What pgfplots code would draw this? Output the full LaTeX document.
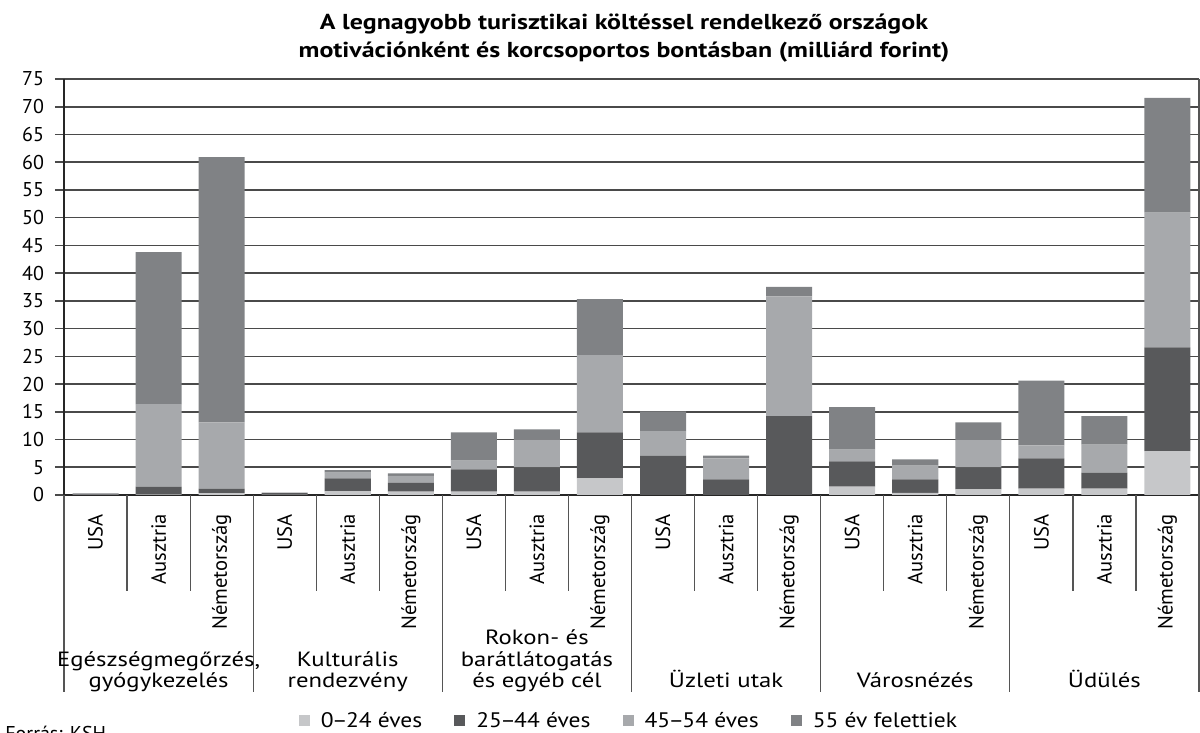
\documentclass[border=0pt]{standalone}
\usepackage{pgfplots}
\usepackage{pgfplotstable}
\pgfplotsset{compat=1.18}
\usepackage{fontspec}
\setmainfont{PT Sans}
\newfontfamily\widefont{PT Sans}[FakeStretch=1.2]
\newfontfamily\legfont{PT Sans}[FakeStretch=1.12]
\definecolor{cA}{HTML}{C6C7C9}
\definecolor{cB}{HTML}{58595B}
\definecolor{cC}{HTML}{A7A9AC}
\definecolor{cD}{HTML}{808285}
\definecolor{gridc}{HTML}{4A4A4A}
\definecolor{sepc}{HTML}{555555}
\newcommand{\dash}{\kern-0.8pt–\kern-0.8pt}

\pgfplotstableread{
x a b c d
0 0.05 0.05 0.10 0.10
1 0.10 1.40 14.90 27.40
2 0.35 0.80 11.95 47.80
3 0.05 0.35 0.05 0.00
4 0.66 2.34 1.05 0.45
5 0.60 1.60 1.25 0.45
6 0.60 4.00 1.60 5.10
7 0.60 4.40 5.00 1.85
8 3.00 8.30 13.90 10.10
9 0.00 7.10 4.40 3.56
10 0.00 2.80 3.80 0.50
11 0.00 14.20 21.60 1.70
12 1.50 4.55 2.15 7.65
13 0.40 2.40 2.50 1.10
14 1.00 4.00 4.90 3.20
15 1.15 5.45 2.35 11.65
16 1.15 2.90 5.05 5.10
17 7.90 18.70 24.30 20.70
}\data

\begin{document}
\begin{tikzpicture}[x=1pt,y=1pt]
\begin{axis}[
  at={(32pt,119pt)}, anchor=south west,
  width=567.5pt, height=208pt, scale only axis,
  xmin=-0.5, xmax=17.5, ymin=0, ymax=75,
  ybar stacked, bar width=0.73,
  axis x line*=bottom, axis y line*=left,
  axis line style={black!85, line width=0.8pt},
  ytick={0,5,...,75},
  ymajorgrids, grid style={gridc, line width=0.8pt},
  y tick style={gridc, line width=0.8pt},
  tick align=outside, major tick length=4.5pt,
  /pgf/number format/assume math mode=true,
  yticklabel style={font=\fontsize{10}{10}\selectfont, xshift=-2pt},
  xtick={0,...,17},
  xticklabels={USA,Ausztria,Németország,USA,Ausztria,Németország,USA,Ausztria,Németország,USA,Ausztria,Németország,USA,Ausztria,Németország,USA,Ausztria,Németország},
  x tick style={draw=none},
  x tick label style={rotate=90, anchor=east, font=\fontsize{10.3}{10.3}\selectfont},
  xticklabel shift=1.5pt,
  legend style={at={(0.4987,-0.5433)}, anchor=center, draw=none, fill=none,
    legend columns=4, font=\legfont\fontsize{10.5}{10.5}\selectfont,
    /tikz/every even column/.append style={column sep=14pt}},
  legend image code/.code={\fill[#1] (0pt,-2.6pt) rectangle (5.5pt,2.9pt); \path (9pt,0pt);},
]
\addplot[fill=cA, draw=none] table[x=x,y=a]{\data};
\addplot[fill=cB, draw=none] table[x=x,y=b]{\data};
\addplot[fill=cC, draw=none] table[x=x,y=c]{\data};
\addplot[fill=cD, draw=none] table[x=x,y=d]{\data};
\legend{0\dash24 éves, 25\dash44 éves, 45\dash54 éves, 55 év felettiek}
\end{axis}

\foreach \k in {0,...,18}{
  \pgfmathsetmacro\xx{32+31.52778*\k}
  \pgfmathtruncatemacro\m{mod(\k,3)}
  \ifnum\m=0
    \draw[sepc, line width=0.6pt] (\xx pt,119pt) -- (\xx pt,20.5pt);
  \else
    \draw[sepc, line width=0.6pt] (\xx pt,119pt) -- (\xx pt,71pt);
  \fi
}
\draw[sepc, line width=0.6pt] (599.5pt,327pt) -- (599.5pt,119pt);

\tikzset{glab/.style={anchor=base, inner sep=0pt, font=\widefont\fontsize{10.3}{10.3}\selectfont}}
\node[glab] at (79.29pt,33.25pt) {Egészségmegőrzés,};
\node[glab] at (79.29pt,22.5pt) {gyógykezelés};
\node[glab] at (173.88pt,33.25pt) {Kulturális};
\node[glab] at (173.88pt,22.5pt) {rendezvény};
\node[glab] at (268.46pt,44pt) {Rokon- és};
\node[glab] at (268.46pt,33.25pt) {barátlátogatás};
\node[glab] at (268.46pt,22.5pt) {és egyéb cél};
\node[glab] at (363.04pt,22.5pt) {Üzleti utak};
\node[glab] at (457.63pt,22.5pt) {Városnézés};
\node[glab] at (552.21pt,22.5pt) {Üdülés};

\node[anchor=base, inner sep=0pt, font=\widefont\bfseries\fontsize{10.8}{10.8}\selectfont] at (312pt,351.5pt) {A legnagyobb turisztikai költéssel rendelkező országok};
\node[anchor=base, inner sep=0pt, font=\widefont\bfseries\fontsize{10.8}{10.8}\selectfont] at (312pt,337.5pt) {motivációnként és korcsoportos bontásban (milliárd forint)};

\node[anchor=base west, inner sep=0pt, font=\fontsize{10}{10}\selectfont] at (2.5pt,-4pt) {Forrás: KSH};

\pgfresetboundingbox
\useasboundingbox (0pt,0pt) rectangle (600pt,366.5pt);
\end{tikzpicture}
\end{document}
